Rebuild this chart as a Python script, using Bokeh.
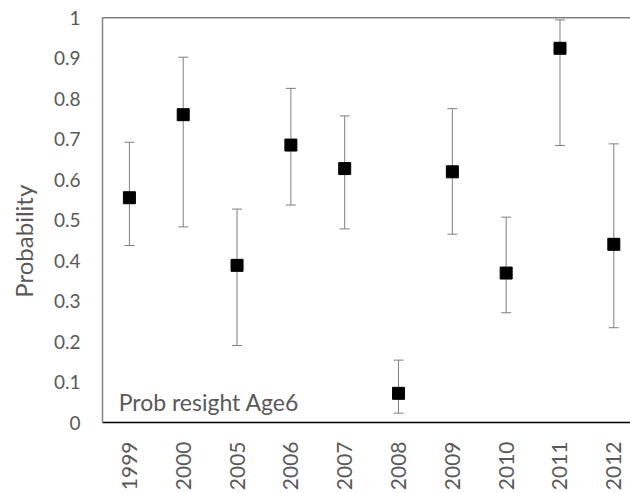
import math
from bokeh.plotting import figure
from bokeh.models import (ColumnDataSource, Range1d, FixedTicker, Whisker, TeeHead,
                          Label, Span)
from bokeh.embed import file_html
from bokeh.resources import INLINE

# ---- data ----
years = ["1999", "2000", "2005", "2006", "2007", "2008", "2009", "2010", "2011", "2012"]
prob = [0.555, 0.760, 0.388, 0.685, 0.627, 0.072, 0.619, 0.369, 0.924, 0.440]
upper = [0.692, 0.902, 0.527, 0.825, 0.757, 0.154, 0.775, 0.507, 0.994, 0.688]
lower = [0.437, 0.483, 0.190, 0.537, 0.478, 0.023, 0.465, 0.271, 0.684, 0.234]
y_ticks = [0, 0.1, 0.2, 0.3, 0.4, 0.5, 0.6, 0.7, 0.8, 0.9, 1]
y_tick_labels = ["0", "0.1", "0.2", "0.3", "0.4", "0.5", "0.6", "0.7", "0.8", "0.9", "1"]
y_title = "Probability"
annotation = "Prob resight Age6"

FONT = "Lato"
GREY_TXT = "#595959"

xpos = [i + 0.5 for i in range(len(years))]
src = ColumnDataSource(dict(x=xpos, year=years, prob=prob, upper=upper, lower=lower))

p = figure(width=630, height=493, output_backend="svg", toolbar_location=None,
           x_range=Range1d(0, 9.81), y_range=Range1d(0, 1),
           min_border_left=102, min_border_right=0, min_border_top=17, min_border_bottom=70)
p.outline_line_color = None
p.background_fill_color = "white"
p.border_fill_color = "white"
p.xgrid.visible = False
p.ygrid.visible = False

# y axis
p.yaxis.ticker = FixedTicker(ticks=y_ticks)
p.yaxis.major_label_overrides = {t: l for t, l in zip(y_ticks, y_tick_labels)}
p.yaxis.major_tick_out = 0
p.yaxis.major_tick_in = 0
p.yaxis.minor_tick_out = 0
p.yaxis.minor_tick_in = 0
p.yaxis.major_label_standoff = 22
p.yaxis.major_label_text_font = FONT
p.yaxis.major_label_text_font_size = "19px"
p.yaxis.major_label_text_color = GREY_TXT
p.yaxis.axis_line_color = "#868686"
p.yaxis.axis_line_width = 1.5
p.yaxis.axis_label = y_title + "\u00a0" * 7
p.yaxis.axis_label_text_font = FONT
p.yaxis.axis_label_text_font_size = "24px"
p.yaxis.axis_label_text_font_style = "normal"
p.yaxis.axis_label_text_color = GREY_TXT
p.yaxis.axis_label_standoff = 13

# x axis: category labels, rotated to read bottom-to-top
p.xaxis.ticker = FixedTicker(ticks=xpos)
p.xaxis.major_label_overrides = {x: y for x, y in zip(xpos, years)}
p.xaxis.major_label_orientation = math.pi / 2
p.xaxis.major_tick_out = 0
p.xaxis.major_tick_in = 0
p.xaxis.minor_tick_out = 0
p.xaxis.minor_tick_in = 0
p.xaxis.major_label_standoff = 19
p.xaxis.major_label_text_font = FONT
p.xaxis.major_label_text_font_size = "21px"
p.xaxis.major_label_text_color = GREY_TXT
p.xaxis.axis_line_color = "black"
p.xaxis.axis_line_width = 1.5

# top border line
p.add_layout(Span(location=1, dimension="width", line_color="black", line_width=1.5))

# error bars
w = Whisker(source=src, base="x", upper="upper", lower="lower", dimension="height",
            line_color="#7f7f7f", line_width=1,
            upper_head=TeeHead(size=10, line_color="#7f7f7f", line_width=1),
            lower_head=TeeHead(size=10, line_color="#7f7f7f", line_width=1))
p.add_layout(w)

# markers
p.scatter(x="x", y="prob", source=src, marker="square", size=12,
          fill_color="black", line_color="black")

# in-plot annotation
p.add_layout(Label(x=0.30, y=0.05, text=annotation, text_font=FONT,
                   text_font_size="23px", text_color=GREY_TXT,
                   text_baseline="alphabetic", text_align="left"))

open("out.html", "w").write(file_html(p, INLINE))
